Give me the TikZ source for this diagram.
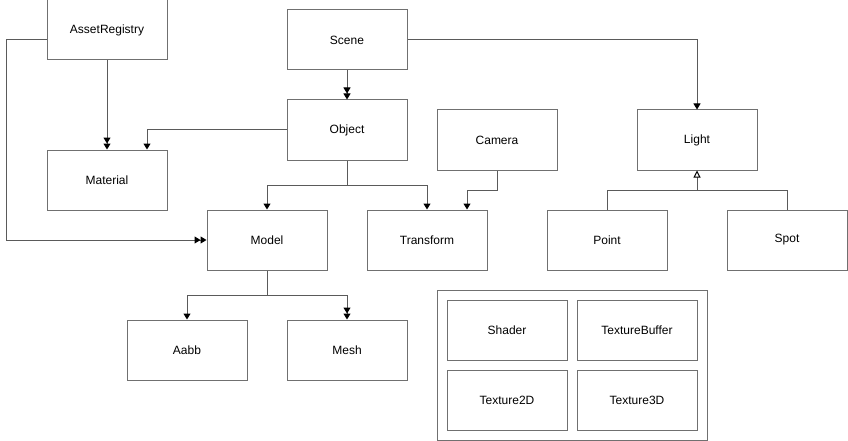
\documentclass[tikz,border=0pt]{standalone}
\usepackage{fontspec}
\setmainfont{Liberation Sans}
\usetikzlibrary{arrows.meta,calc}
\definecolor{boxc}{RGB}{112,112,112}
\definecolor{edgec}{RGB}{90,90,90}
\begin{document}
\begin{tikzpicture}[x=1pt,y=-1pt,
  cls/.style={draw=boxc,line width=1pt,fill=white,minimum width=120pt,minimum height=60pt,inner sep=0pt,font=\fontsize{12}{14}\selectfont},
  edge/.style={draw=edgec,line width=1pt},
  one/.style={-{Triangle[length=6pt,width=7pt,color=black]}},
  two/.style={-{Triangle[length=6pt,width=7pt,color=black]Triangle[length=6pt,width=7pt,color=black]}},
  inh/.style={-{Triangle[open,length=7pt,width=7pt,color=black,fill=white]}}]
\useasboundingbox (0,0) rectangle (848,441);
\node[cls] (asset) at (107,30) {AssetRegistry};
\node[cls] (scene) at (347,40) {Scene};
\node[cls] (object) at (347,130) {Object};
\node[cls] (camera) at (497,140) {Camera};
\node[cls] (light) at (697,140) {Light};
\node[cls] (material) at (107,180) {Material};
\node[cls] (model) at (267,240) {Model};
\node[cls] (transform) at (427,240) {Transform};
\node[cls] (point) at (607,240) {Point};
\node[cls] (spot) at (787,240) {Spot};
\node[cls] (aabb) at (187,350) {Aabb};
\node[cls] (mesh) at (347,350) {Mesh};
\node[draw=boxc,line width=1pt,minimum width=270pt,minimum height=150pt,inner sep=0pt] (res) at (572,365) {};
\node[cls] (shader) at (507,330) {Shader};
\node[cls] (tbuf) at (637,330) {TextureBuffer};
\node[cls] (t2d) at (507,400) {Texture2D};
\node[cls] (t3d) at (637,400) {Texture3D};
\coordinate (j) at (697,190);

\draw[edge,two] (scene.south) -- (object.north);
\draw[edge,one] (scene.east) -| (light.north);
\draw[edge,two] (asset.south) -- (material.north);
\draw[edge,two] ([yshift=-10pt]asset.west) -- ++(-40,0) |- (model.west);
\draw[edge,one] (object.west) -| ([xshift=40pt]material.north);
\draw[edge,one] (object.south) -- ++(0,25) -| (model.north);
\draw[edge,one] (object.south) -- ++(0,25) -| (transform.north);
\draw[edge,one] (camera.south) -- ++(0,20) -| ([xshift=40pt]transform.north);
\draw[edge,one] (model.south) -- ++(0,25) -| (aabb.north);
\draw[edge,two] (model.south) -- ++(0,25) -| (mesh.north);
\draw[edge] (point.north) |- (j);
\draw[edge] (spot.north) |- (j);
\draw[edge,inh] (j) -- (light.south);
\end{tikzpicture}
\end{document}
